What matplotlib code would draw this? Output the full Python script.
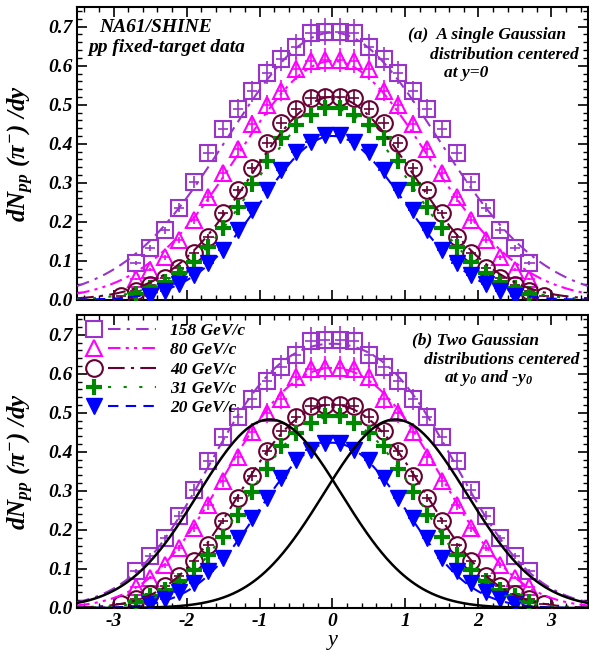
import numpy as np
import matplotlib
matplotlib.use('Agg')
import matplotlib.pyplot as plt
from matplotlib.lines import Line2D
from matplotlib.legend_handler import HandlerBase
from matplotlib.ticker import MultipleLocator, FormatStrFormatter

plt.rcParams['font.family'] = ['Liberation Serif', 'DejaVu Serif']
plt.rcParams['font.weight'] = 'bold'
plt.rcParams['font.style'] = 'italic'
plt.rcParams['mathtext.fontset'] = 'custom'
plt.rcParams['mathtext.it'] = 'Liberation Serif:bold:italic'
plt.rcParams['mathtext.rm'] = 'Liberation Serif:bold:italic'
plt.rcParams['mathtext.bf'] = 'Liberation Serif:bold:italic'
plt.rcParams['axes.unicode_minus'] = False

# rapidity bins (positive side, data are reflected to y < 0)
y_bins = [0.1, 0.3, 0.5, 0.7, 0.9, 1.1, 1.3, 1.5, 1.7, 1.9, 2.1, 2.3, 2.5, 2.7, 2.9]

labels = ['158 GeV/c', '80 GeV/c', '40 GeV/c', '31 GeV/c', '20 GeV/c']

dndy_158 = [0.687, 0.685, 0.649, 0.617, 0.582, 0.535, 0.490, 0.439, 0.376, 0.303, 0.236, 0.179, 0.133, 0.094]
dndy_80 = [0.615, 0.612, 0.592, 0.536, 0.500, 0.451, 0.386, 0.326, 0.264, 0.205, 0.154, 0.109, 0.077, 0.053]
dndy_40 = [0.521, 0.517, 0.490, 0.454, 0.403, 0.338, 0.282, 0.223, 0.162, 0.120, 0.083, 0.056, 0.037, 0.023, 0.009]
dndy_31 = [0.492, 0.474, 0.449, 0.415, 0.357, 0.298, 0.237, 0.183, 0.135, 0.097, 0.069, 0.046, 0.030, 0.015]
dndy_20 = [0.423, 0.404, 0.378, 0.333, 0.282, 0.231, 0.179, 0.127, 0.095, 0.064, 0.042, 0.023, 0.009]

# relative uncertainty of each data set
rel_err = [0.05, 0.05, 0.035, 0.04, 0.045]

# (a) single Gaussian fit: amplitude and width
single_amp = [0.685, 0.612, 0.52, 0.49, 0.42]
single_sigma = [1.44, 1.30, 1.13, 1.07, 0.97]

# (b) two Gaussians at +-y0: amplitude, y0 and width
two_amp = [0.49, 0.42, 0.349, 0.32, 0.26]
two_y0 = [0.86, 0.75, 0.65, 0.60, 0.50]
two_sigma = [1.0, 0.95, 0.85, 0.82, 0.78]

# the two components shown in black
comp_amp = 0.483
comp_y0 = 0.86
comp_sigma = 0.98

colors = ['#9933cc', '#ff00ff', '#660033', '#008800', '#0000ff']
markers = ['s', '^', 'o', '+', 'v']
fills = ['none', 'none', 'none', '#008800', '#0000ff']
msizes = [11, 12, 12, 12, 11]
medge = [1.5, 1.5, 1.5, 3.0, 1.0]
dashes = [(6, 3, 1.5, 3, 6, 3), (6, 2.5, 1.5, 2.5, 1.5, 2.5), (8, 3, 1.5, 3), (1.5, 6), (5, 3.5)]

all_data = [dndy_158, dndy_80, dndy_40, dndy_31, dndy_20]


class MarkerLineHandler(HandlerBase):
    # marker on the left, line on the right, like the original legend
    def create_artists(self, legend, orig_handle, xdescent, ydescent, width, height, fontsize, trans):
        mk, ln = orig_handle
        yc = (height - ydescent) / 2
        x0 = -xdescent
        a = Line2D([x0 + 0.12 * width], [yc])
        a.update_from(mk)
        b = Line2D([x0 + 0.32 * width, x0 + width], [yc, yc])
        b.update_from(ln)
        a.set_transform(trans)
        b.set_transform(trans)
        return [a, b]


def mirror(values):
    x = np.array(y_bins[:len(values)])
    v = np.array(values)
    return np.concatenate([-x[::-1], x]), np.concatenate([v[::-1], v])


def gauss(x, a, mu, s):
    return a * np.exp(-(x - mu) ** 2 / (2 * s ** 2))


def draw_data(ax):
    for i, values in enumerate(all_data):
        x, v = mirror(values)
        ax.errorbar(x, v, yerr=rel_err[i] * v, xerr=0.07, fmt='none',
                    ecolor=colors[i], elinewidth=1.2, capsize=0, zorder=3)
        ax.plot(x, v, ls='none', marker=markers[i], ms=msizes[i], mec=colors[i],
                mfc=fills[i], mew=medge[i], zorder=4)


def style_axis(ax, show_x):
    ax.set_xlim(-3.5, 3.5)
    ax.set_ylim(0, 0.75)
    ax.xaxis.set_major_locator(MultipleLocator(1))
    ax.xaxis.set_minor_locator(MultipleLocator(0.2))
    ax.yaxis.set_major_locator(MultipleLocator(0.1))
    ax.yaxis.set_minor_locator(MultipleLocator(0.02))
    ax.yaxis.set_major_formatter(FormatStrFormatter('%.1f'))
    ax.tick_params(which='both', direction='in', top=True, right=True, labelsize=14)
    ax.tick_params(which='major', length=7, width=1.2)
    ax.tick_params(which='minor', length=3.5, width=1.0)
    if not show_x:
        ax.tick_params(labelbottom=False)
    for sp in ax.spines.values():
        sp.set_linewidth(1.5)
    ax.set_ylabel(r'$dN_{pp}\ (\pi^{-})\ /dy$', fontsize=18)
    ax.yaxis.set_label_coords(-0.08, 0.5)


fig = plt.figure(figsize=(5.89, 6.52), dpi=100)
ax1 = fig.add_axes([0.131, 0.54, 0.867, 0.449])
ax2 = fig.add_axes([0.131, 0.0675, 0.867, 0.449])

xs = np.linspace(-3.5, 3.5, 400)

# Panel (a): single Gaussian fits
for i in range(5):
    ax1.plot(xs, gauss(xs, single_amp[i], 0, single_sigma[i]), color=colors[i],
             lw=1.5, dashes=dashes[i], zorder=5)
draw_data(ax1)
style_axis(ax1, False)

ax1.text(0.154, 0.932, 'NA61/SHINE', transform=ax1.transAxes, ha='center', va='center', fontsize=14)
ax1.text(0.176, 0.863, 'pp fixed-target data', transform=ax1.transAxes, ha='center', va='center', fontsize=14)
ax1.text(0.803, 0.904, '(a)  A single Gaussian', transform=ax1.transAxes, ha='center', va='center', fontsize=12.5)
ax1.text(0.836, 0.836, 'distribution centered', transform=ax1.transAxes, ha='center', va='center', fontsize=12.5)
ax1.text(0.762, 0.775, 'at y=0', transform=ax1.transAxes, ha='center', va='center', fontsize=12.5)

# Panel (b): two Gaussian fits
for i in range(5):
    fit = gauss(xs, two_amp[i], two_y0[i], two_sigma[i]) + gauss(xs, two_amp[i], -two_y0[i], two_sigma[i])
    ax2.plot(xs, fit, color=colors[i], lw=1.5, dashes=dashes[i], zorder=5)
ax2.plot(xs, gauss(xs, comp_amp, comp_y0, comp_sigma), color='black', lw=1.8, zorder=6)
ax2.plot(xs, gauss(xs, comp_amp, -comp_y0, comp_sigma), color='black', lw=1.8, zorder=6)
draw_data(ax2)
style_axis(ax2, True)
ax2.set_xlabel('y', fontsize=16, labelpad=1)

ax2.text(0.781, 0.915, '(b) Two Gaussian', transform=ax2.transAxes, ha='center', va='center', fontsize=12.5)
ax2.text(0.832, 0.846, 'distributions centered', transform=ax2.transAxes, ha='center', va='center', fontsize=12.5)
ax2.text(0.805, 0.785, r'at $y_0$ and -$y_0$', transform=ax2.transAxes, ha='center', va='center', fontsize=12.5)

# legend: marker followed by the line style
handles = []
for i in range(5):
    mk = Line2D([], [], ls='none', marker=markers[i], ms=msizes[i], mec=colors[i],
                mfc=fills[i], mew=medge[i])
    ln = Line2D([], [], color=colors[i], lw=1.5, dashes=dashes[i])
    handles.append((mk, ln))
ax2.legend(handles, labels, handler_map={tuple: MarkerLineHandler()}, loc='upper left',
           frameon=False, handlelength=4.1, handletextpad=0.8, labelspacing=0.18,
           borderaxespad=0.15, borderpad=0.3, prop={'size': 12.5, 'weight': 'bold', 'style': 'italic'})

fig.savefig('out.png', dpi=100)
